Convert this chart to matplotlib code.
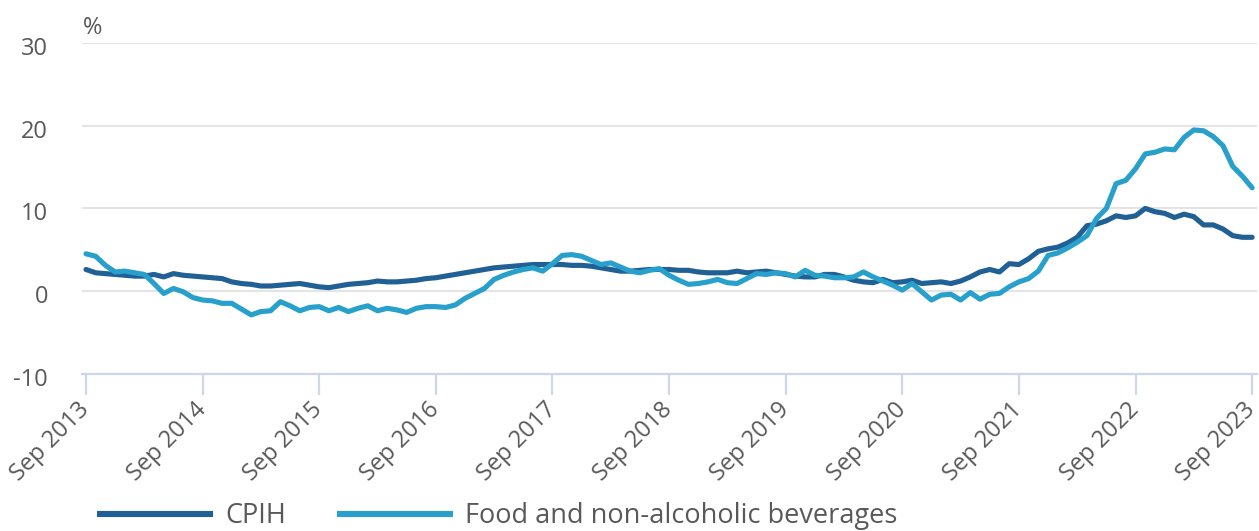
import matplotlib
matplotlib.use('Agg')
import matplotlib.pyplot as plt
import matplotlib.transforms as mtransforms
from matplotlib.lines import Line2D
import numpy as np

# ---------------- data (annual rate, %) ----------------
tick_labels = ['Sep 2013', 'Sep 2014', 'Sep 2015', 'Sep 2016', 'Sep 2017', 'Sep 2018',
               'Sep 2019', 'Sep 2020', 'Sep 2021', 'Sep 2022', 'Sep 2023']
y_ticks = [-10, 0, 10, 20, 30]
series_names = ['CPIH', 'Food and non-alcoholic beverages']

# monthly values Sep 2013 .. Sep 2023
cpih = [
    2.6, 2.2, 2.1, 2.0,                                               # 2013 Sep-Dec
    1.9, 1.8, 1.8, 2.0, 1.7, 2.1, 1.9, 1.8, 1.7, 1.6, 1.5, 1.1,       # 2014
    0.9, 0.8, 0.6, 0.6, 0.7, 0.8, 0.9, 0.7, 0.5, 0.4, 0.6, 0.8,       # 2015
    0.9, 1.0, 1.2, 1.1, 1.1, 1.2, 1.3, 1.5, 1.6, 1.8, 2.0, 2.2,       # 2016
    2.4, 2.6, 2.8, 2.9, 3.0, 3.1, 3.2, 3.2, 3.2, 3.2, 3.1, 3.1,       # 2017
    3.0, 2.8, 2.6, 2.4, 2.4, 2.5, 2.6, 2.6, 2.6, 2.5, 2.5, 2.3,       # 2018
    2.2, 2.2, 2.2, 2.4, 2.2, 2.3, 2.4, 2.2, 2.0, 1.8, 1.7, 1.7,       # 2019
    2.0, 2.0, 1.7, 1.3, 1.1, 1.0, 1.4, 1.0, 1.1, 1.3, 0.9, 1.0,       # 2020
    1.1, 0.9, 1.2, 1.7, 2.3, 2.6, 2.3, 3.3, 3.2, 3.9, 4.8, 5.1,       # 2021
    5.3, 5.8, 6.5, 7.9, 8.1, 8.5, 9.1, 8.9, 9.1, 10.0, 9.6, 9.4,      # 2022
    8.9, 9.3, 9.0, 8.0, 8.0, 7.5, 6.7, 6.5, 6.5,                      # 2023 Jan-Sep
]
food = [
    4.5, 4.2, 3.1, 2.3,
    2.4, 2.2, 2.0, 0.9, -0.3, 0.3, -0.1, -0.8, -1.1, -1.2, -1.5, -1.5,
    -2.2, -2.9, -2.5, -2.4, -1.3, -1.8, -2.4, -2.0, -1.9, -2.4, -2.0, -2.5,
    -2.1, -1.8, -2.4, -2.1, -2.3, -2.6, -2.1, -1.9, -1.9, -2.0, -1.7, -0.9,
    -0.3, 0.3, 1.4, 1.9, 2.3, 2.6, 2.8, 2.4, 3.3, 4.3, 4.4, 4.2,
    3.7, 3.2, 3.4, 2.9, 2.4, 2.2, 2.5, 2.7, 1.9, 1.3, 0.8, 0.9,
    1.1, 1.4, 1.0, 0.9, 1.5, 2.1, 2.0, 2.2, 2.1, 1.7, 2.5, 1.9,
    1.8, 1.6, 1.6, 1.7, 2.3, 1.7, 1.2, 0.7, 0.1, 0.9, -0.1, -1.1,
    -0.5, -0.4, -1.1, -0.2, -1.0, -0.4, -0.3, 0.5, 1.1, 1.5, 2.4, 4.3,
    4.6, 5.2, 5.9, 6.7, 8.8, 10.0, 13.0, 13.4, 14.8, 16.6, 16.8, 17.2,
    17.1, 18.6, 19.5, 19.4, 18.7, 17.6, 15.1, 13.9, 12.5,
]

# ---------------- style ----------------
DARK = '#206095'
LIGHT = '#27a0cc'
TEXT = '#595959'
GRID = '#e4e4e4'
AXIS = '#cdd6ea'
plt.rcParams['font.family'] = ['Open Sans', 'DejaVu Sans']

W, H = 1259, 531
fig = plt.figure(figsize=(W / 100, H / 100), dpi=100)
ax = fig.add_axes([82 / W, 1 - 373.5 / H, (1257 - 82) / W, (373.5 - 43.3) / H])

x = np.arange(len(cpih))
ax.plot(x, cpih, color=DARK, lw=3.7, solid_capstyle='round', solid_joinstyle='round',
        clip_on=False, zorder=3)
ax.plot(x, food, color=LIGHT, lw=3.7, solid_capstyle='round', solid_joinstyle='round',
        clip_on=False, zorder=4)

ax.set_xlim(-0.41, 120.5)
ax.set_ylim(-10, 30)

ax.set_yticks(y_ticks)
ax.set_yticklabels([str(v) for v in y_ticks])
ax.set_xticks(np.arange(0, len(cpih), 12))
ax.set_xticklabels(tick_labels)

for s in ['top', 'right', 'left']:
    ax.spines[s].set_visible(False)
ax.spines['bottom'].set_color(AXIS)
ax.spines['bottom'].set_linewidth(1.6)
ax.spines['bottom'].set_zorder(2.5)

ax.set_axisbelow(True)
ax.grid(axis='y', color=GRID, lw=1.5)
ax.grid(axis='x', visible=False)

ax.tick_params(axis='y', length=0, pad=24.5, labelsize=17, labelcolor=TEXT)
ax.tick_params(axis='x', length=15, width=1.6, color=AXIS, pad=8.5,
               labelsize=17, labelcolor=TEXT)

offset = mtransforms.ScaledTranslation(0, -3 / 100, fig.dpi_scale_trans)
for lbl in ax.get_yticklabels():
    lbl.set_transform(lbl.get_transform() + offset)
for lbl in ax.get_xticklabels():
    lbl.set_rotation(45)
    lbl.set_ha('right')
    lbl.set_va('center')
    lbl.set_rotation_mode('anchor')

fig.text(83 / W, 1 - 28.5 / H, '%', ha='left', va='center', fontsize=17, color=TEXT)

handles = [Line2D([], [], color=DARK, lw=4.4, solid_capstyle='butt'),
           Line2D([], [], color=LIGHT, lw=4.4, solid_capstyle='butt')]
leg = fig.legend(handles, series_names, loc='center left',
                 bbox_to_anchor=(97 / W, 1 - 516 / H), ncol=2, frameon=False,
                 fontsize=19.5, handlelength=4.3, handletextpad=0.45,
                 columnspacing=1.85, borderpad=0, borderaxespad=0)
for t in leg.get_texts():
    t.set_color(TEXT)

fig.savefig('out.png', dpi=100)
